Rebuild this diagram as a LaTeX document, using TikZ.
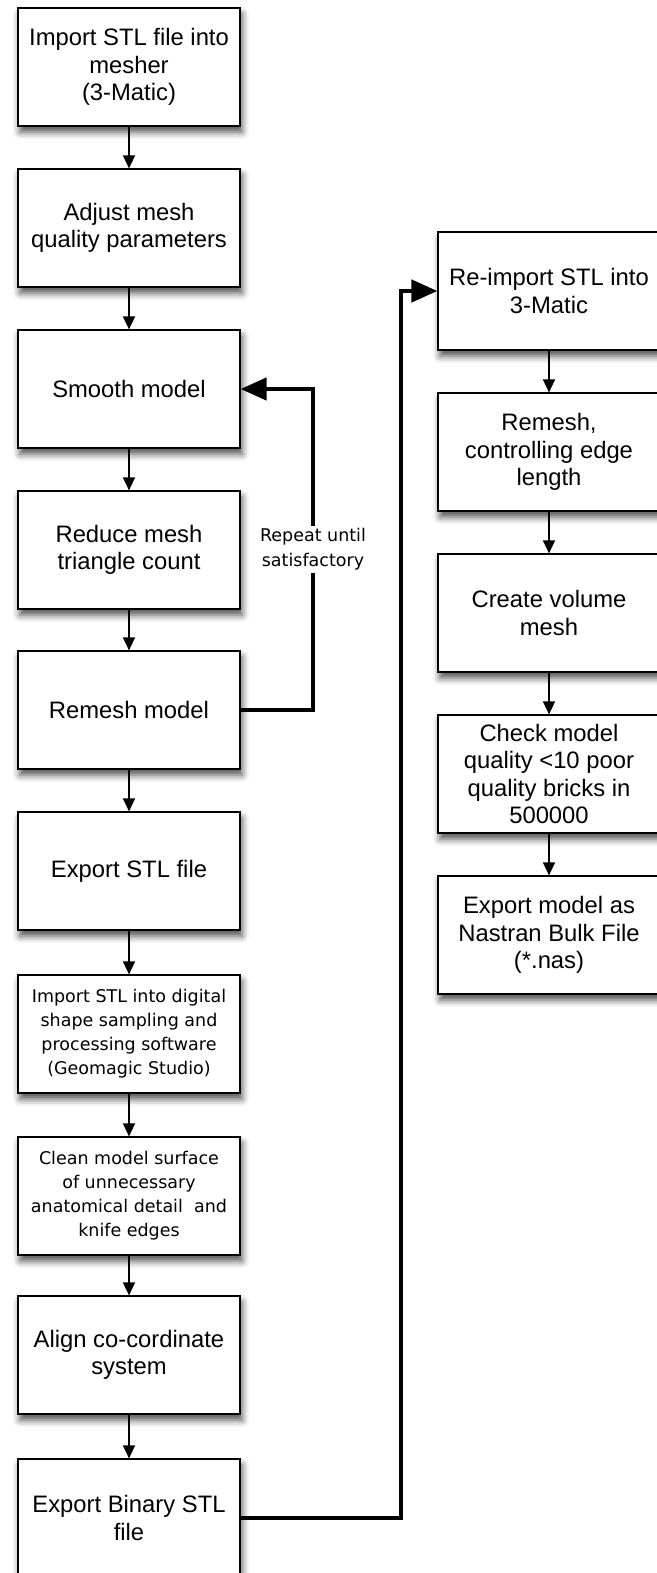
\documentclass[tikz,border=0pt]{standalone}
\usepackage{fontspec}
\setmainfont{Liberation Sans}
\newfontfamily\smallfont{DejaVu Sans}
\usetikzlibrary{positioning, arrows.meta, shadows.blur}

\tikzset{
  stepbox/.style={draw, line width=1.2pt, fill=white, minimum width=222pt, minimum height=118pt,
    align=center, inner sep=0pt,
    blur shadow={shadow xshift=2pt, shadow yshift=-6pt, shadow blur radius=7pt, shadow opacity=70},
    font=\fontsize{23.8}{27.5}\selectfont},
  smallbox/.style={stepbox, font=\smallfont\fontsize{17.5}{24}\selectfont},
  flowarrow/.style={line width=1.5pt, -{Triangle[length=13pt, width=12pt]}},
  bigarrow/.style={line width=4.5pt, -{Triangle[length=26pt, width=22pt]}},
  looplabel/.style={fill=white, align=center, inner sep=3pt, font=\smallfont\fontsize{17.5}{25}\selectfont}
}

\begin{document}
\begin{tikzpicture}[x=1pt, y=-1pt]
  \useasboundingbox (0,0) rectangle (656,1573);

  % left column
  \node[stepbox] (importmesher) at (129,67) {Import STL file into\\mesher\\(3-Matic)};
  \node[stepbox] (adjust) at (129,228) {Adjust mesh\\quality parameters};
  \node[stepbox] (smooth) at (129,389) {Smooth model};
  \node[stepbox] (reduce) at (129,550) {Reduce mesh\\triangle count};
  \node[stepbox] (remesh) at (129,710) {Remesh model};
  \node[stepbox] (exportstl) at (129,871) {Export STL file};
  \node[smallbox] (importgeo) at (129,1034) {Import STL into digital\\shape sampling and\\processing software\\(Geomagic Studio)};
  \node[smallbox] (clean) at (129,1196) {Clean model surface\\of unnecessary\\anatomical detail~ and\\knife edges};
  \node[stepbox] (align) at (129,1355) {Align co-cordinate\\system};
  \node[stepbox] (exportbin) at (129,1518) {Export Binary STL\\file};

  % right column
  \node[stepbox] (reimport) at (549,291) {Re-import STL into\\3-Matic};
  \node[stepbox] (remeshedge) at (549,452) {Remesh,\\controlling edge\\length};
  \node[stepbox] (volume) at (549,613) {Create volume\\mesh};
  \node[stepbox] (check) at (549,774) {Check model\\quality <10 poor\\quality bricks in\\500000};
  \node[stepbox] (nastran) at (549,935) {Export model as\\Nastran Bulk File\\(*.nas)};

  \draw[flowarrow] (importmesher) -- (adjust);
  \draw[flowarrow] (adjust) -- (smooth);
  \draw[flowarrow] (smooth) -- (reduce);
  \draw[flowarrow] (reduce) -- (remesh);
  \draw[flowarrow] (remesh) -- (exportstl);
  \draw[flowarrow] (exportstl) -- (importgeo);
  \draw[flowarrow] (importgeo) -- (clean);
  \draw[flowarrow] (clean) -- (align);
  \draw[flowarrow] (align) -- (exportbin);

  \draw[flowarrow] (reimport) -- (remeshedge);
  \draw[flowarrow] (remeshedge) -- (volume);
  \draw[flowarrow] (volume) -- (check);
  \draw[flowarrow] (check) -- (nastran);

  % repeat loop and link to the second column
  \coordinate (loopturn) at (313,710);
  \coordinate (linkturn) at (401,1518);
  \draw[bigarrow] (remesh.east) -- (loopturn) |- node[pos=0.25, looplabel] {Repeat until\\satisfactory} (smooth.east);
  \draw[bigarrow] (exportbin.east) -- (linkturn) |- (reimport.west);
\end{tikzpicture}
\end{document}
